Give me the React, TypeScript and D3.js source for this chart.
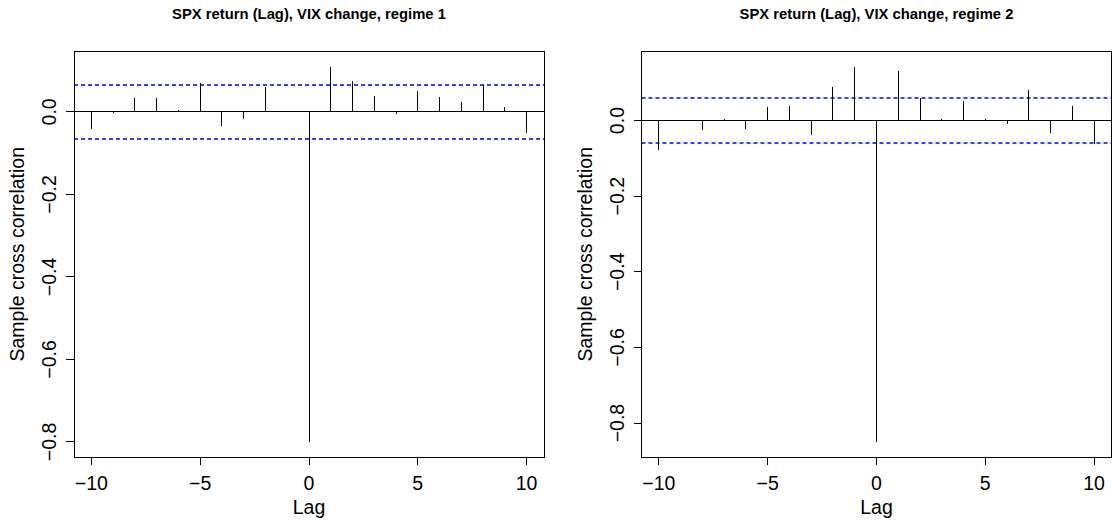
import React from "react";
import * as d3 from "d3";

// lags shown in both panels
const lags = [-10, -9, -8, -7, -6, -5, -4, -3, -2, -1, 0, 1, 2, 3, 4, 5, 6, 7, 8, 9, 10];

// sample cross correlations
const regime1 = [-0.041, -0.003, 0.033, 0.034, 0.005, 0.069, -0.033, -0.017, 0.061, 0.002, -0.8,
  0.11, 0.076, 0.039, -0.005, 0.05, 0.036, 0.025, 0.066, 0.011, -0.052];
const regime2 = [-0.077, 0.002, -0.025, 0.004, -0.022, 0.036, 0.039, -0.038, 0.088, 0.143, -0.85,
  0.131, 0.06, 0.004, 0.051, 0.003, -0.009, 0.081, -0.033, 0.039, -0.061];

const titles = ["SPX return (Lag), VIX change, regime 1", "SPX return (Lag), VIX change, regime 2"];
const ciLimits = [0.066, 0.06];
const xTicks = [-10, -5, 0, 5, 10];
const yTicks = [0, -0.2, -0.4, -0.6, -0.8];

const W = 1112, H = 527;
const font = "'Liberation Sans', Arial, Helvetica, sans-serif";
const fs = 19.5;

// R-style 4% padding
function padded(lo: number, hi: number): [number, number] {
  const d = (hi - lo) * 0.04;
  return [lo - d, hi + d];
}

function Panel({values, title, ci, left}: {values: number[]; title: string; ci: number; left: number}) {
  const box = {left, right: left + 470, top: 51.5, bottom: 457};

  const x = d3.scaleLinear()
    .domain(padded(d3.min(lags)!, d3.max(lags)!))
    .range([box.left, box.right]);

  const lo = Math.min(d3.min(values)!, -ci), hi = Math.max(d3.max(values)!, ci);
  const y = d3.scaleLinear()
    .domain(padded(lo, hi))
    .range([box.bottom, box.top]);

  const fmt = d3.format(".1f");
  const cx = (box.left + box.right) / 2;
  const cy = (box.top + box.bottom) / 2;

  return (
    <g fontFamily={font}>
      <text x={cx} y={19} textAnchor="middle" fontWeight="bold" fontSize={14.8}>{title}</text>

      {/* confidence band */}
      {[ci, -ci].map(c => (
        <line key={c} x1={box.left} x2={box.right} y1={Math.round(y(c))} y2={Math.round(y(c))}
              stroke="#0000ff" strokeWidth={1.6} strokeDasharray="4,3" shapeRendering="auto"/>
      ))}
      <line x1={box.left} x2={box.right} y1={y(0)} y2={y(0)} stroke="#000" strokeWidth={1}/>

      {/* spikes */}
      {values.map((v, i) => (
        <line key={i} x1={x(lags[i])} x2={x(lags[i])} y1={y(0)} y2={y(v)} stroke="#000" strokeWidth={1}/>
      ))}

      <rect x={box.left} y={box.top} width={box.right - box.left} height={box.bottom - box.top}
            fill="none" stroke="#000" strokeWidth={1}/>

      {/* x axis */}
      {xTicks.map(t => (
        <g key={t}>
          <line x1={x(t)} x2={x(t)} y1={box.bottom} y2={box.bottom + 8} stroke="#000"/>
          <text x={x(t)} y={490} textAnchor="middle" fontSize={fs}>{t < 0 ? "\u2212" + Math.abs(t) : t}</text>
        </g>
      ))}
      <text x={cx} y={514} textAnchor="middle" fontSize={fs}>Lag</text>

      {/* y axis */}
      {yTicks.map(t => (
        <g key={t}>
          <line x1={box.left - 8} x2={box.left} y1={y(t)} y2={y(t)} stroke="#000"/>
          <text transform={`translate(${box.left - 18},${y(t)}) rotate(-90)`} textAnchor="middle" fontSize={fs}>
            {fmt(t).replace("-", "\u2212")}
          </text>
        </g>
      ))}
      <text transform={`translate(${box.left - 50},${cy}) rotate(-90)`} textAnchor="middle" fontSize={fs}>
        Sample cross correlation
      </text>
    </g>
  );
}

export default function App() {
  return (
    <svg width={W} height={H} style={{position: "absolute", left: 0, top: 0, background: "#fff"}}
         shapeRendering="crispEdges">
      <rect width={W} height={H} fill="#fff"/>
      <Panel values={regime1} title={titles[0]} ci={ciLimits[0]} left={74}/>
      <Panel values={regime2} title={titles[1]} ci={ciLimits[1]} left={641.5}/>
    </svg>
  );
}
